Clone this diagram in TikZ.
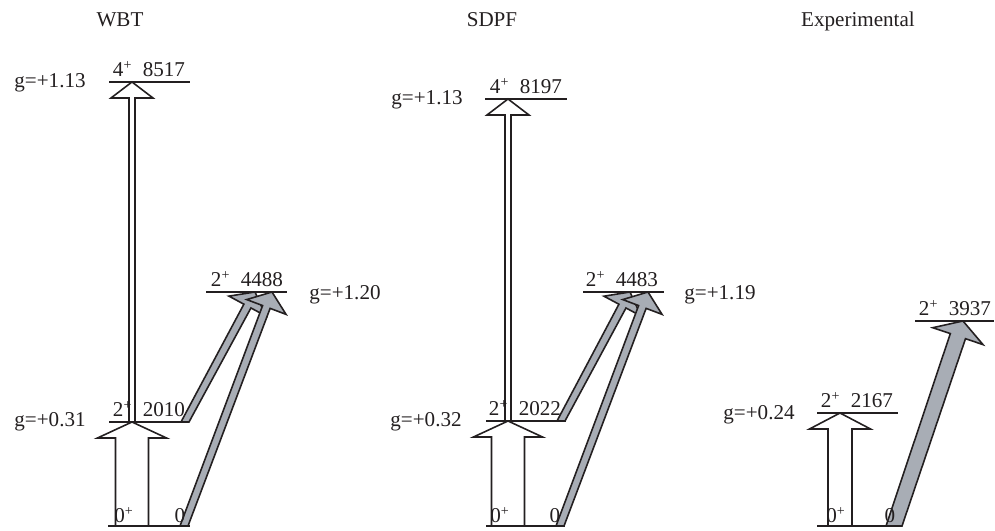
\documentclass[tikz,border=0pt]{standalone}
\usepackage{fontspec}
\setmainfont{Liberation Serif}
\usetikzlibrary{calc}
\definecolor{schwarz}{HTML}{231F20}
\definecolor{pfgrau}{HTML}{A8ADB5}
\tikzset{
  niveau/.style={schwarz,line width=1.1pt},
  offen/.style={draw=schwarz,fill=white,line width=0.9pt},
  grau/.style={draw=schwarz,fill=pfgrau,line width=0.9pt},
  beschr/.style={schwarz,inner sep=0pt,anchor=base,font=\fontsize{12}{14}\selectfont},
}
% #1 Stil, #2 Start, #3 Spitze, #4 halbe Schaftbreite, #5 halbe Kopfbreite, #6 Kopflaenge
\newcommand{\dickpfeil}[6]{%
  \path (#3) coordinate (spitze) ($(#3)!#6!(#2)$) coordinate (basis);
  \draw[#1] ($(#2)+(-#4,0pt)$) -- ($(basis)!#4!90:(spitze)$) -- ($(basis)!#5!90:(spitze)$)
    -- (spitze) -- ($(basis)!#5!-90:(spitze)$) -- ($(basis)!#4!-90:(spitze)$)
    -- ($(#2)+(#4,0pt)$) -- cycle;
}

\begin{document}
\begin{tikzpicture}[x=0.2mm,y=-0.2mm]
  \useasboundingbox (0,0) rectangle (995,531);

  % WBT
  \node[beschr] (wtitel) at (120,27) {WBT};
  \coordinate (w4l) at (109,82);  \coordinate (w4r) at (190,82);
  \coordinate (w2l) at (109,422); \coordinate (w2r) at (189,422);
  \coordinate (w6l) at (206,292); \coordinate (w6r) at (287,292);
  \coordinate (w0l) at (108,526); \coordinate (w0r) at (190,526);
  \draw[niveau] (w4l) -- (w4r);
  \draw[niveau] (w2l) -- (w2r);
  \draw[niveau] (w6l) -- (w6r);
  \draw[niveau] (w0l) -- (w0r);
  \coordinate (w0a) at (132,526); \coordinate (w2a) at (132,422); \coordinate (w4a) at (132,82);
  \coordinate (w2b) at (185,422); \coordinate (w0b) at (184,526);
  \coordinate (w6a) at (255,292); \coordinate (w6b) at (272,292);
  \dickpfeil{offen}{w2a}{w4a}{0.6mm}{4.2mm}{3.2mm}
  \dickpfeil{offen}{w0a}{w2a}{3.3mm}{6.9mm}{3.2mm}
  \dickpfeil{grau}{w2b}{w6a}{0.8mm}{4.2mm}{3.2mm}
  \dickpfeil{grau}{w0b}{w6b}{0.8mm}{4.2mm}{3.2mm}
  \node[beschr] (w4t) at (149,77) {4\textsuperscript{+}\enspace 8517};
  \node[beschr] (w2t) at (149,417) {2\textsuperscript{+}\enspace 2010};
  \node[beschr] (w6t) at (247,287) {2\textsuperscript{+}\enspace 4488};
  \node[beschr] (w0t) at (124,523) {0\textsuperscript{+}};
  \node[beschr] (w0n) at (180,523) {0};
  \node[beschr,anchor=base east] (w4g) at (86,88) {g=+1.13};
  \node[beschr,anchor=base east] (w2g) at (86,427) {g=+0.31};
  \node[beschr,anchor=base west] (w6g) at (309,300) {g=+1.20};

  % SDPF
  \node[beschr] (stitel) at (492,27) {SDPF};
  \coordinate (s4l) at (485,99);  \coordinate (s4r) at (567,99);
  \coordinate (s2l) at (486,421); \coordinate (s2r) at (566,421);
  \coordinate (s6l) at (583,292); \coordinate (s6r) at (664,292);
  \coordinate (s0l) at (486,526); \coordinate (s0r) at (565,526);
  \draw[niveau] (s4l) -- (s4r);
  \draw[niveau] (s2l) -- (s2r);
  \draw[niveau] (s6l) -- (s6r);
  \draw[niveau] (s0l) -- (s0r);
  \coordinate (s0a) at (508,526); \coordinate (s2a) at (508,421); \coordinate (s4a) at (508,99);
  \coordinate (s2b) at (561,421); \coordinate (s0b) at (560,526);
  \coordinate (s6a) at (630,292); \coordinate (s6b) at (648,292);
  \dickpfeil{offen}{s2a}{s4a}{0.6mm}{4.2mm}{3.2mm}
  \dickpfeil{offen}{s0a}{s2a}{3.3mm}{6.9mm}{3.2mm}
  \dickpfeil{grau}{s2b}{s6a}{0.8mm}{4.2mm}{3.2mm}
  \dickpfeil{grau}{s0b}{s6b}{0.8mm}{4.2mm}{3.2mm}
  \node[beschr] (s4t) at (526,94) {4\textsuperscript{+}\enspace 8197};
  \node[beschr] (s2t) at (525,416) {2\textsuperscript{+}\enspace 2022};
  \node[beschr] (s6t) at (622,287) {2\textsuperscript{+}\enspace 4483};
  \node[beschr] (s0t) at (500,523) {0\textsuperscript{+}};
  \node[beschr] (s0n) at (555,523) {0};
  \node[beschr,anchor=base east] (s4g) at (463,105) {g=+1.13};
  \node[beschr,anchor=base east] (s2g) at (462,427) {g=+0.32};
  \node[beschr,anchor=base west] (s6g) at (684,300) {g=+1.19};

  % Experiment
  \node[beschr] (etitel) at (858,27) {Experimental};
  \coordinate (e2l) at (817,413); \coordinate (e2r) at (898,413);
  \coordinate (e3l) at (915,321); \coordinate (e3r) at (994,321);
  \coordinate (e0l) at (817,526); \coordinate (e0r) at (900,526);
  \draw[niveau] (e2l) -- (e2r);
  \draw[niveau] (e3l) -- (e3r);
  \draw[niveau] (e0l) -- (e0r);
  \coordinate (e0a) at (840,526); \coordinate (e2a) at (840,413);
  \coordinate (e0b) at (894,526); \coordinate (e3a) at (963,321);
  \dickpfeil{offen}{e0a}{e2a}{2.4mm}{6.1mm}{3.2mm}
  \dickpfeil{grau}{e0b}{e3a}{1.6mm}{5.3mm}{3.2mm}
  \node[beschr] (e2t) at (857,408) {2\textsuperscript{+}\enspace 2167};
  \node[beschr] (e3t) at (955,316) {2\textsuperscript{+}\enspace 3937};
  \node[beschr] (e0t) at (836,523) {0\textsuperscript{+}};
  \node[beschr] (e0n) at (890,523) {0};
  \node[beschr,anchor=base east] (e2g) at (795,420) {g=+0.24};
\end{tikzpicture}
\end{document}
